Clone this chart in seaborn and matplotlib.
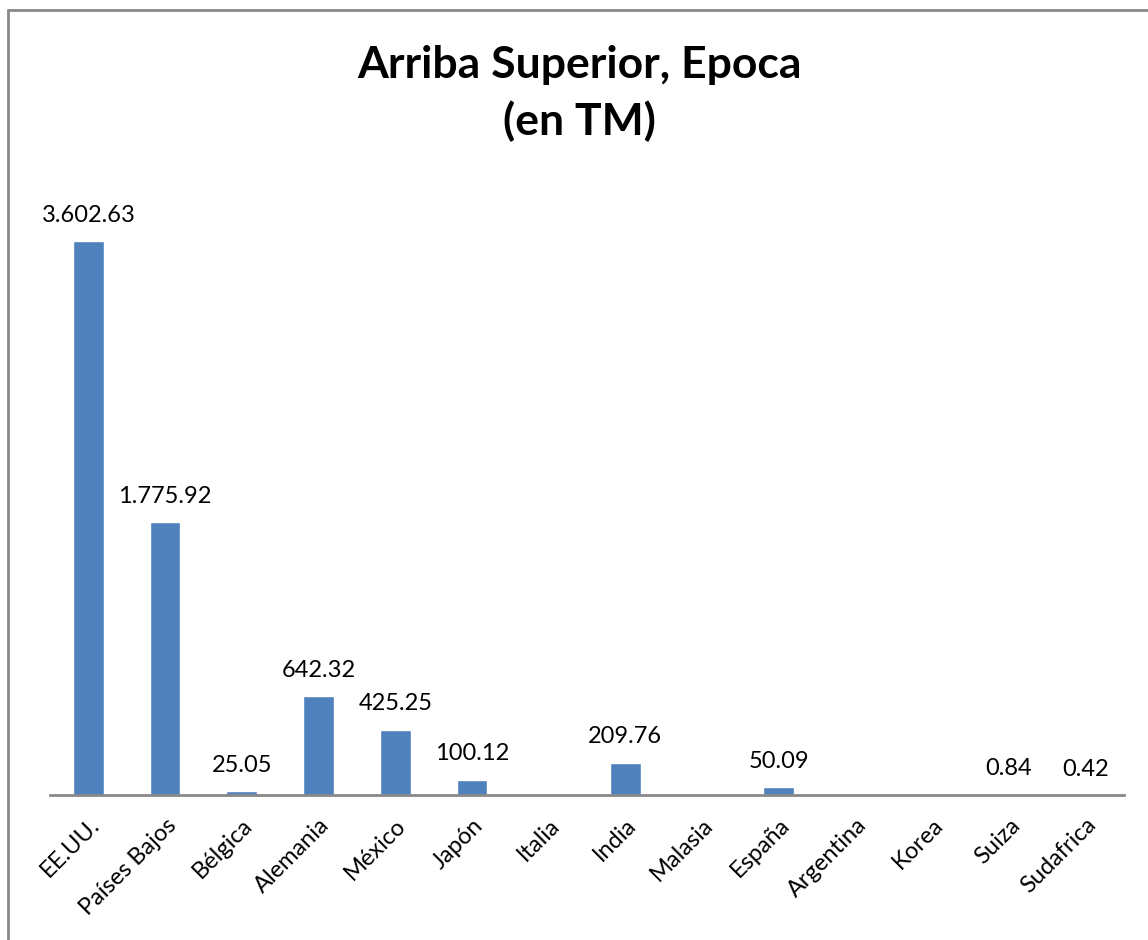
import numpy as np
import pandas as pd
import matplotlib
matplotlib.use("Agg")
import matplotlib.pyplot as plt
import seaborn as sns

paises = ["EE.UU.", "Países Bajos", "Bélgica", "Alemania", "México", "Japón",
          "Italia", "India", "Malasia", "España", "Argentina", "Korea",
          "Suiza", "Sudafrica"]
toneladas = [3602.63, 1775.92, 25.05, 642.32, 425.25, 100.12,
             np.nan, 209.76, np.nan, 50.09, np.nan, np.nan,
             0.84, 0.42]
etiquetas = ["3.602.63", "1.775.92", "25.05", "642.32", "425.25", "100.12",
             "", "209.76", "", "50.09", "", "",
             "0.84", "0.42"]

df = pd.DataFrame({"pais": paises, "tm": toneladas})

sns.set_theme(style="white")
plt.rcParams["font.family"] = ["Lato", "DejaVu Sans"]
plt.rcParams["text.color"] = "black"
plt.rcParams["xtick.color"] = "black"

fig = plt.figure(figsize=(11.48, 9.4), dpi=100)
ax = fig.add_axes([0.0436, 0.1543, 0.9355, 0.654])

sns.barplot(data=df, x="pais", y="tm", color="#4F81BD", width=0.4,
            saturation=1, ax=ax)

ax.set_ylim(0, 4000)
ax.set_xlim(-0.5, len(paises) - 0.5)
ax.set_xlabel("")
ax.set_ylabel("")
ax.set_yticks([])
for s in ["top", "right", "left"]:
    ax.spines[s].set_visible(False)
ax.spines["bottom"].set_color("#888888")
ax.spines["bottom"].set_linewidth(2)

ax.set_xticks(range(len(paises)))
ax.set_xticklabels(paises, rotation=45, ha="right", rotation_mode="anchor",
                   fontsize=17)
ax.tick_params(axis="x", length=0, pad=14)

for i, (v, lab) in enumerate(zip(toneladas, etiquetas)):
    if lab:
        ax.text(i, v + 100, lab, ha="center", va="bottom", fontsize=17,
                color="black")

fig.text(0.505, 0.952, "Arriba Superior, Epoca\n(en TM)", ha="center",
         va="top", fontsize=32, fontweight="bold", linespacing=1.45,
         color="black")

# Outer frame lines along the top and left edges
fig.add_artist(plt.Line2D([0.007, 1.0], [0.989, 0.989], color="#888888",
                          lw=2, transform=fig.transFigure))
fig.add_artist(plt.Line2D([0.007, 0.007], [0.0, 0.989], color="#888888",
                          lw=2, transform=fig.transFigure))

fig.savefig("out.png", dpi=100, facecolor="white")
